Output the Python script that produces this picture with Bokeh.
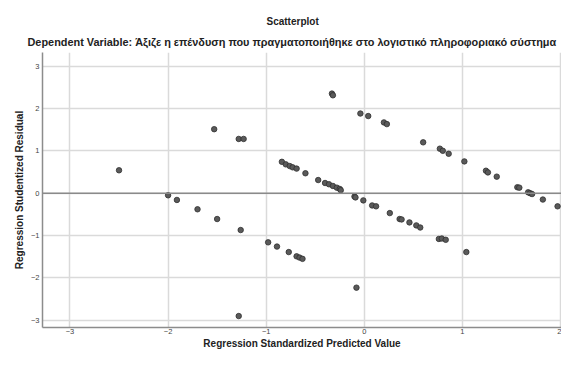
from bokeh.plotting import figure
from bokeh.models import Title, Span, FixedTicker, Range1d
from bokeh.embed import file_html
from bokeh.resources import INLINE

predicted = [-2.50, -2.00, -1.91, -1.70, -1.53, -1.50, -1.28, -1.23, -1.26, -1.28,
             -0.98, -0.89, -0.84, -0.80, -0.77, -0.76, -0.73, -0.69, -0.69, -0.66,
             -0.63, -0.60, -0.47, -0.40, -0.36, -0.33, -0.32, -0.32, -0.28, -0.25,
             -0.24, -0.10, -0.09, -0.08, -0.04, -0.01, 0.04, 0.08, 0.12, 0.20,
             0.23, 0.26, 0.36, 0.38, 0.46, 0.53, 0.57, 0.60, 0.77, 0.76,
             0.79, 0.80, 0.83, 0.86, 1.02, 1.04, 1.24, 1.26, 1.35, 1.56,
             1.58, 1.67, 1.69, 1.71, 1.82, 1.97]
residual = [0.54, -0.05, -0.16, -0.38, 1.51, -0.61, 1.28, 1.28, -0.87, -2.90,
            -1.16, -1.26, 0.74, 0.68, -1.39, 0.64, 0.61, 0.58, -1.49, -1.52,
            -1.55, 0.47, 0.31, 0.24, 0.21, 2.35, 2.31, 0.17, 0.13, 0.10,
            0.07, -0.08, -0.10, -2.23, 1.88, -0.17, 1.82, -0.29, -0.31, 1.67,
            1.63, -0.47, -0.61, -0.62, -0.69, -0.76, -0.81, 1.20, 1.05, -1.08,
            -1.07, 1.00, -1.10, 0.93, 0.75, -1.39, 0.53, 0.49, 0.39, 0.14,
            0.13, 0.02, 0.00, -0.02, -0.15, -0.31]

x_ticks = [-3, -2, -1, 0, 1, 2]
y_ticks = [-3, -2, -1, 0, 1, 2, 3]

main_title = "Scatterplot"
sub_title = "Dependent Variable: Άξιζε η επένδυση που πραγματοποιήθηκε στο λογιστικό πληροφοριακό σύστημα"
x_label = "Regression Standardized Predicted Value"
y_label = "Regression Studentized Residual"

FONT = "Liberation Sans"

p = figure(width=561, height=351, output_backend="svg", toolbar_location=None,
           x_range=Range1d(-3.28, 2.01), y_range=Range1d(-3.17, 3.32),
           min_border=0)
p.outline_line_color = None
p.background_fill_color = "white"

sub = Title(text=sub_title, align="left", text_font=FONT, text_font_size="10.9px",
            text_font_style="bold", text_color="#222222", offset=-15, standoff=9)
p.add_layout(sub, "above")
main = Title(text=main_title, align="left", text_font=FONT, text_font_size="10px",
             text_font_style="bold", text_color="#222222", offset=224, standoff=6)
p.add_layout(main, "above")
pad_top = Title(text=" ", text_font_size="6px", standoff=2)
p.add_layout(pad_top, "above")
pad_left = Title(text=" ", text_font_size="6px", standoff=2)
p.add_layout(pad_left, "left")

for ax in (p.xaxis[0], p.yaxis[0]):
    ax.axis_line_color = "#8c8c8c"
    ax.axis_line_width = 1.5
    ax.major_tick_line_color = None
    ax.minor_tick_line_color = None
    ax.major_tick_out = 0
    ax.major_tick_in = 0
    ax.minor_tick_out = 0
    ax.minor_tick_in = 0
    ax.major_label_text_font = FONT
    ax.major_label_text_font_size = "7.5px"
    ax.major_label_text_color = "#444444"
    ax.axis_label_text_font = FONT
    ax.axis_label_text_font_size = "10px"
    ax.axis_label_text_font_style = "bold"
    ax.axis_label_text_color = "#222222"

p.xaxis[0].ticker = FixedTicker(ticks=x_ticks)
p.yaxis[0].ticker = FixedTicker(ticks=y_ticks)
p.xaxis[0].axis_label = x_label
p.yaxis[0].axis_label = y_label
p.xaxis[0].major_label_standoff = 1
p.xaxis[0].axis_label_standoff = 1
p.yaxis[0].major_label_standoff = 3
p.yaxis[0].axis_label_standoff = 3

p.xgrid[0].ticker = FixedTicker(ticks=x_ticks)
p.ygrid[0].ticker = FixedTicker(ticks=y_ticks)
p.grid.grid_line_color = "#dadada"
p.grid.grid_line_width = 1.5

p.add_layout(Span(location=0, dimension="width", line_color="#8a8a8a", line_width=1.5))

p.scatter(predicted, residual, size=5.5, fill_color="#5a5a5a", line_color="#303030",
          line_width=0.8)

open("out.html", "w").write(file_html(p, INLINE))
